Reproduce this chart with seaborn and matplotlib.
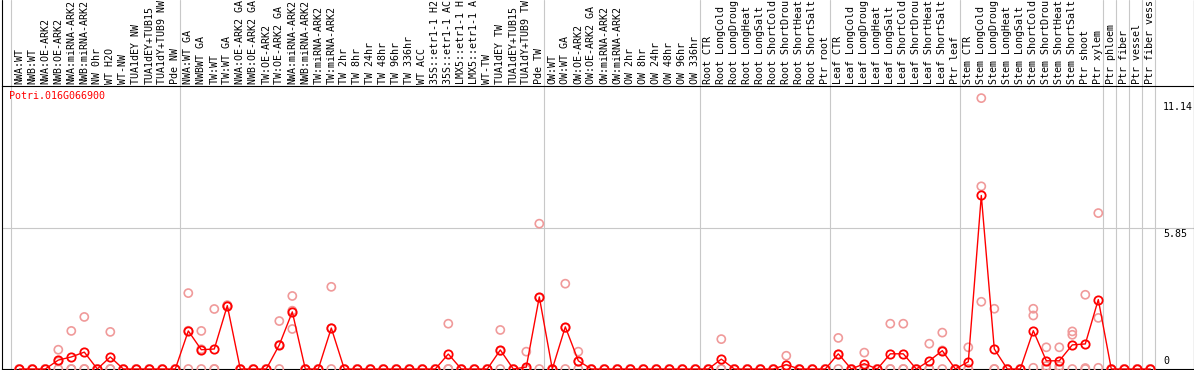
import numpy as np
import pandas as pd
import matplotlib
matplotlib.use("Agg")
import matplotlib.pyplot as plt
import seaborn as sns
from matplotlib.transforms import blended_transform_factory
from matplotlib.lines import Line2D

# ---------------- data ----------------
title = "Potri.016G066900"

labels = [
    "NWA:WT", "NWB:WT", "NWA:OE-ARK2", "NWB:OE-ARK2", "NWA:miRNA-ARK2", "NWB:miRNA-ARK2",
    "NW 0hr", "WT H2O", "WT-NW", "TUA1dEY NW", "TUA1dEY+TUB15", "TUA1dY+TUB9 NW", "Pde NW",
    "NWA:WT GA", "NWBWT GA", "TW:WT", "TW:WT GA", "NWA:OE-ARK2 GA", "NWB:OE-ARK2 GA",
    "TW:OE-ARK2", "TW:OE-ARK2 GA", "NWA:miRNA-ARK2", "NWB:miRNA-ARK2", "TW:miRNA-ARK2",
    "TW:miRNA-ARK2", "TW 2hr", "TW 8hr", "TW 24hr", "TW 48hr", "TW 96hr", "TW 336hr",
    "WT ACC", "35S::etr1-1 H2", "35S::etr1-1 AC", "LMX5::etr1-1 H", "LMX5::etr1-1 A",
    "WT-TW", "TUA1dEY TW", "TUA1dEY+TUB15", "TUA1dY+TUB9 TW", "Pde TW",
    "OW:WT", "OW:WT GA", "OW:OE-ARK2", "OW:OE-ARK2 GA", "OW:miRNA-ARK2", "OW:miRNA-ARK2",
    "OW 2hr", "OW 8hr", "OW 24hr", "OW 48hr", "OW 96hr", "OW 336hr",
    "Root CTR", "Root LongCold", "Root LongDroug", "Root LongHeat", "Root LongSalt",
    "Root ShortCold", "Root ShortDrou", "Root ShortHeat", "Root ShortSalt", "Ptr root",
    "Leaf CTR", "Leaf LongCold", "Leaf LongDroug", "Leaf LongHeat", "Leaf LongSalt",
    "Leaf ShortCold", "Leaf ShortDrou", "Leaf ShortHeat", "Leaf ShortSalt", "Ptr leaf",
    "Stem CTR", "Stem LongCold", "Stem LongDroug", "Stem LongHeat", "Stem LongSalt",
    "Stem ShortCold", "Stem ShortDrou", "Stem ShortHeat", "Stem ShortSalt", "Ptr shoot",
    "Ptr xylem", "Ptr phloem", "Ptr fiber", "Ptr vessel", "Ptr fiber vess",
]

group_sizes = [13, 28, 12, 10, 10, 11, 1, 1, 1, 1]

means = [
    0, 0, 0, 0.37, 0.50, 0.70, 0, 0.50, 0, 0, 0, 0, 0,
    1.58, 0.80, 0.83, 2.63, 0, 0, 0, 1.00, 2.37, 0, 0, 1.70, 0, 0, 0, 0, 0, 0, 0, 0,
    0.62, 0, 0, 0, 0.79, 0, 0.08, 2.99,
    0, 1.75, 0.34, 0, 0, 0, 0, 0, 0, 0, 0, 0,
    0, 0.41, 0, 0, 0, 0, 0.18, 0, 0, 0,
    0.63, 0, 0.22, 0, 0.63, 0.63, 0, 0.34, 0.76, 0,
    0.30, 7.20, 0.83, 0, 0, 1.59, 0.34, 0.34, 1.00, 1.04, 2.88,
    0, 0, 0, 0,
]

rep_a = [
    0, 0, 0, 0.80, 1.58, 2.16, 0, 1.54, 0, 0, 0, 0, 0,
    3.15, 1.58, 2.49, 2.65, 0, 0, 0, 1.99, 3.03, 0, 0, 3.41, 0, 0, 0, 0, 0, 0, 0, 0,
    1.88, 0, 0, 0, 1.62, 0, 0.72, 6.03,
    0, 3.54, 0.72, 0, 0, 0, 0, 0, 0, 0, 0, 0,
    0, 1.24, 0, 0, 0, 0, 0.55, 0, 0, 0,
    1.29, 0, 0.68, 0, 1.88, 1.88, 0, 1.05, 1.51, 0,
    0.90, 11.24, 2.50, 0, 0, 2.50, 0.90, 0.90, 1.56, 3.08, 6.47,
    0, 0, 0, 0,
]

rep_b = [
    0, 0, 0, 0.31, 0, 0, 0, 0, 0, 0, 0, 0, 0,
    1.59, 0.82, 0, 2.62, 0, 0, 0, 1.00, 2.42, 0, 0, 1.69, 0, 0, 0, 0, 0, 0, 0, 0,
    0, 0, 0, 0, 0.75, 0, 0, 2.95,
    0, 1.71, 0.31, 0, 0, 0, 0, 0, 0, 0, 0, 0,
    0, 0, 0, 0, 0, 0, 0, 0, 0, 0,
    0.60, 0, 0, 0, 0, 0, 0, 0, 0.77, 0,
    0, 7.58, 0, 0, 0, 2.22, 0.12, 0.12, 1.42, 0.04, 2.12,
    0, 0, 0, 0,
]

rep_c = [
    0, 0, 0, 0, 0, 0, 0, 0, 0, 0, 0, 0, 0,
    0, 0, 0, 2.62, 0, 0, 0, 0, 1.66, 0, 0, 0, 0, 0, 0, 0, 0, 0, 0, 0,
    0, 0, 0, 0, 0, 0, 0, 0,
    0, 0, 0, 0, 0, 0, 0, 0, 0, 0, 0, 0,
    0, 0, 0, 0, 0, 0, 0, 0, 0, 0,
    0, 0, 0, 0, 0, 0, 0, 0, 0, 0,
    0, 2.79, 0, 0, 0, 0.05, 0, 0, 0, 0, 0.05,
    0, 0, 0, 0,
]

ytick_values = [11.14, 5.85, 0]
ytick_labels = ["11.14", "5.85", "0"]
grid_value = 5.85

# ---------------- style ----------------
sns.set_theme(style="white")
plt.rcParams["font.family"] = ["DejaVu Sans Mono"]
FS = 7.2
RED = "#ff0000"
PINK = "#f09a9a"
GRAY = "#c8c8c8"

W, H = 1194, 370
fig = plt.figure(figsize=(W / 100, H / 100), dpi=100)
fig.patch.set_facecolor("white")

# axes in pixel layout
ax_l, ax_r, ax_t, ax_b = 1.5, 1193.5, 85.5, 369.0
ax = fig.add_axes([ax_l / W, 1 - ax_b / H, (ax_r - ax_l) / W, (ax_b - ax_t) / H])
ax.set_facecolor("white")

col0_px, col_step = 19.3, 13.0
px_per_unit = 24.1
ax.set_xlim((ax_l - col0_px) / col_step, (ax_r - col0_px) / col_step)
ax.set_ylim(0, (ax_b - ax_t) / px_per_unit)
ax.set_xticks([])
ax.set_yticks([])
for s in ax.spines.values():
    s.set_color("black")
    s.set_linewidth(0.8)

idx = np.arange(len(labels))

# group separators (full figure height)
bounds = np.concatenate([[0], np.cumsum(group_sizes)])
top_frac = 1 + ax_t / (ax_b - ax_t)
for b in bounds:
    ax.axvline(b - 0.62, ymin=0, ymax=top_frac, color=GRAY, lw=0.8, clip_on=False, zorder=1)

ax.axhline(grid_value, color=GRAY, lw=0.8, zorder=1)

# replicates
reps = pd.DataFrame({
    "x": np.tile(idx, 3),
    "y": np.concatenate([rep_a, rep_b, rep_c]),
})
sns.scatterplot(data=reps, x="x", y="y", ax=ax, marker="o", s=34,
                facecolor="none", edgecolor=PINK, linewidth=1.2, zorder=3, clip_on=False,
                legend=False)
ax.collections[-1].set_facecolor("none")

# means
df = pd.DataFrame({"x": idx, "y": means})
sns.lineplot(data=df, x="x", y="y", ax=ax, color=RED, lw=1.0, marker="o",
             markersize=6.0, markerfacecolor="none", markeredgecolor=RED,
             markeredgewidth=1.3, zorder=4, clip_on=False, legend=False)
ax.set_xlabel("")
ax.set_ylabel("")

# column labels in header
tr = blended_transform_factory(ax.transData, ax.transAxes)
for i, lab in zip(idx, labels):
    ax.text(i, 1 + 2 / (ax_b - ax_t), lab, transform=tr, rotation=90, ha="center",
            va="bottom", fontsize=FS, color="black", clip_on=False)

# y value labels on the right
trl = blended_transform_factory(ax.transAxes, ax.transData)
xlab = (1163 - ax_l) / (ax_r - ax_l)
for v, t in zip(ytick_values, ytick_labels):
    if v == 0:
        ax.annotate(t, xy=(xlab, v), xycoords=trl, xytext=(0, 3), textcoords="offset pixels",
                    ha="left", va="bottom", fontsize=FS, color="black")
    else:
        ax.annotate(t, xy=(xlab, v), xycoords=trl, xytext=(0, -1), textcoords="offset pixels",
                    ha="left", va="top", fontsize=FS, color="black")

# title
fig.text(9 / W, 1 - 91 / H, title, color=RED, ha="left", va="top", fontsize=FS)

# outer frame lines in header
for xpx in (ax_l, ax_r):
    fig.add_artist(Line2D([xpx / W, xpx / W], [1 - ax_t / H, 1], color="black", lw=0.8,
                          transform=fig.transFigure))

fig.savefig("out.png", dpi=100, facecolor="white")
